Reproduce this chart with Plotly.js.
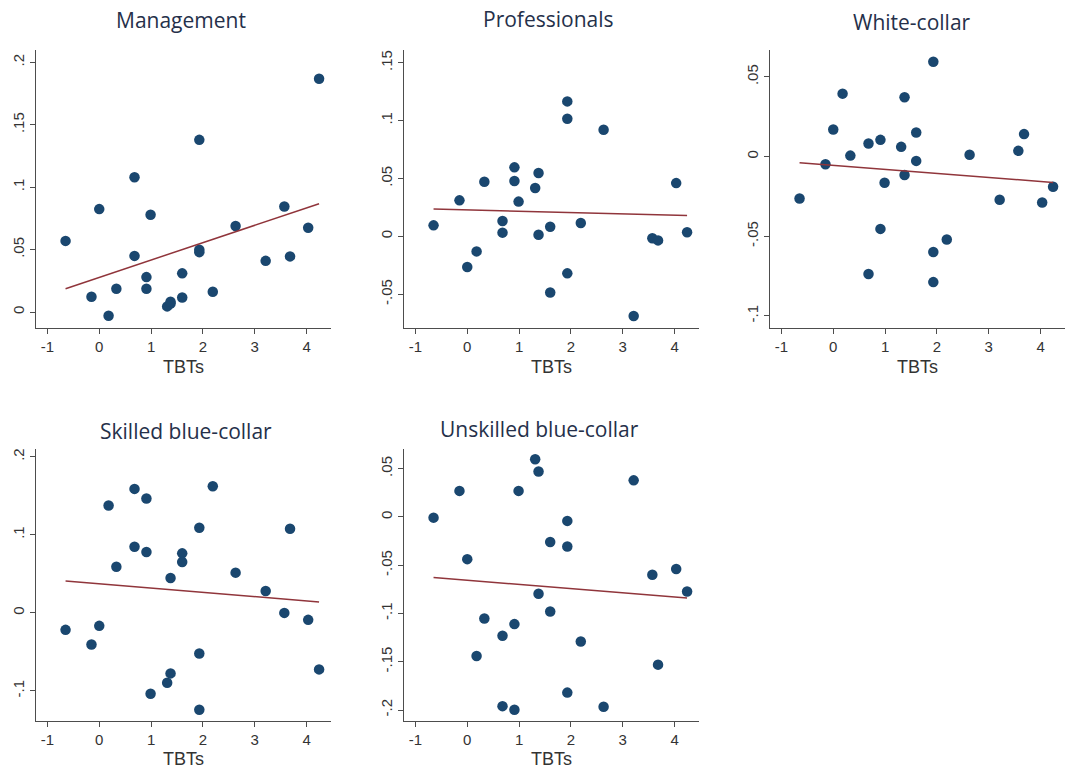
<!DOCTYPE html>
<html>
<head>
<meta charset="utf-8">
<script src="https://cdn.plot.ly/plotly-3.0.1.min.js"></script>
<style>html,body{margin:0;padding:0;background:#fff}#chart{width:1070px;height:769px}</style>
</head>
<body>
<div id="chart"></div>
<script>
// Shared x values (TBTs) for the 25 observations
const tbts = [-0.65,-0.15,0.0,0.18,0.33,0.68,0.68,0.91,0.91,0.99,1.31,1.375,1.375,1.60,1.60,1.93,1.93,1.93,2.19,2.63,3.21,3.57,3.68,4.03,4.24];

const management    = [0.057,0.0123,0.0825,-0.003,0.0187,0.108,0.045,0.028,0.0187,0.078,0.0045,0.0069,0.0083,0.031,0.0117,0.138,0.05,0.048,0.0163,0.069,0.041,0.0846,0.0446,0.0676,0.187];
const professionals = [0.0095,0.0311,-0.0265,-0.013,0.0472,0.0132,0.0032,0.0596,0.0478,0.030,0.0417,0.0547,0.0014,0.0083,-0.0486,0.1166,0.1016,-0.032,0.0115,0.0921,-0.0688,-0.0017,-0.0035,0.046,0.0035];
const whiteCollar   = [-0.0263,-0.0048,0.017,0.0395,0.0006,0.0082,-0.0737,0.0105,-0.0454,-0.0164,0.0061,0.0372,-0.0116,0.0151,-0.0027,0.0595,-0.0599,-0.0788,-0.0521,0.0011,-0.0271,0.0036,0.0141,-0.0288,-0.0189];
const skilledBlue   = [-0.0217,-0.0405,-0.0166,0.1376,0.0592,0.1589,0.0848,0.1466,0.078,-0.1035,-0.0895,0.0447,-0.0775,0.0763,0.0652,0.109,-0.052,-0.124,0.1623,0.0516,0.0281,0.0,0.1078,-0.0089,-0.0724];
const unskilledBlue = [-0.0007,0.027,-0.0437,-0.1441,-0.1052,-0.123,-0.196,-0.111,-0.1998,0.027,0.0598,0.0471,-0.0796,-0.026,-0.098,-0.0041,-0.0307,-0.182,-0.129,-0.1967,0.0379,-0.0598,-0.153,-0.054,-0.0772];

// Fitted line endpoints (x and y) per panel
const fitX = [-0.65, 4.24];
const fitManagement    = [0.0187, 0.0868];
const fitProfessionals = [0.0236, 0.0181];
const fitWhiteCollar   = [-0.0038, -0.0162];
const fitSkilledBlue   = [0.0409, 0.0141];
const fitUnskilledBlue = [-0.0628, -0.084];

const panelTitles = ["Management","Professionals","White-collar","Skilled blue-collar","Unskilled blue-collar"];
const xTicks = [-1,0,1,2,3,4];
const yTicks = [
  [0,0.05,0.1,0.15,0.2],
  [-0.05,0,0.05,0.1,0.15],
  [-0.1,-0.05,0,0.05],
  [-0.1,0,0.1,0.2],
  [-0.2,-0.15,-0.1,-0.05,0,0.05]
];
const yTickText = [
  ["0",".05",".1",".15",".2"],
  ["-.05","0",".05",".1",".15"],
  ["-.1","-.05","0",".05"],
  ["-.1","0",".1",".2"],
  ["-.2","-.15","-.1","-.05","0",".05"]
];

const seriesY = [management, professionals, whiteCollar, skilledBlue, unskilledBlue];
const fitsY = [fitManagement, fitProfessionals, fitWhiteCollar, fitSkilledBlue, fitUnskilledBlue];

// layout geometry (px)
const W = 1070, H = 769;
const colX = [[36,331],[404,699],[770,1065]];
const rowY = [[50,328],[449,721]];
const yRanges = [[-0.0128,0.21],[-0.0792,0.161],[-0.1076,0.0669],[-0.1385,0.21],[-0.2114,0.0704]];
const titlePos = [[181,20],[548,19],[912,22],[186,431],[540,429]];

const traces = [];
const layout = {
  width: W, height: H,
  margin: {l:0,r:0,t:0,b:0},
  paper_bgcolor: "#fff", plot_bgcolor: "#fff",
  showlegend: false,
  annotations: []
};

for (let i = 0; i < 5; i++) {
  const col = i < 3 ? i : i - 3;
  const row = i < 3 ? 0 : 1;
  const n = i + 1;
  const xa = n === 1 ? "x" : "x" + n;
  const ya = n === 1 ? "y" : "y" + n;
  traces.push({
    x: tbts, y: seriesY[i], type: "scatter", mode: "markers",
    xaxis: xa, yaxis: ya,
    marker: {color: "#1a476f", size: 10.5, line: {width: 0}},
    hoverinfo: "skip"
  });
  traces.push({
    x: fitX, y: fitsY[i], type: "scatter", mode: "lines",
    xaxis: xa, yaxis: ya,
    line: {color: "#90353b", width: 1.5},
    hoverinfo: "skip"
  });
  const axisCommon = {
    showline: true, linecolor: "#4d4d4d", linewidth: 1.2,
    ticks: "outside", ticklen: 5, tickcolor: "#4d4d4d", tickwidth: 1,
    zeroline: false, showgrid: false,
    tickfont: {family: "Liberation Sans, Arial, sans-serif", size: 15, color: "#333"}
  };
  layout["xaxis" + (n === 1 ? "" : n)] = Object.assign({}, axisCommon, {
    domain: [colX[col][0] / W, colX[col][1] / W],
    anchor: ya,
    range: [-1.22, 4.47],
    tickmode: "array", tickvals: xTicks, ticktext: xTicks.map(String),
    title: {text: "TBTs", standoff: 6, font: {family: "Liberation Sans, Arial, sans-serif", size: 18, color: "#333"}}
  });
  layout["yaxis" + (n === 1 ? "" : n)] = Object.assign({}, axisCommon, {
    domain: [1 - rowY[row][1] / H, 1 - rowY[row][0] / H],
    anchor: xa,
    range: yRanges[i],
    tickmode: "array", tickvals: yTicks[i], ticktext: yTickText[i],
    tickangle: -90
  });
  layout.annotations.push({
    text: panelTitles[i], xref: "paper", yref: "paper",
    x: titlePos[i][0] / W, y: 1 - titlePos[i][1] / H,
    xanchor: "center", yanchor: "middle", showarrow: false,
    font: {family: "Open Sans, sans-serif", size: 21, color: "#25304a"}
  });
}

Plotly.newPlot("chart", traces, layout, {displayModeBar: false, staticPlot: true});
</script>
</body>
</html>
